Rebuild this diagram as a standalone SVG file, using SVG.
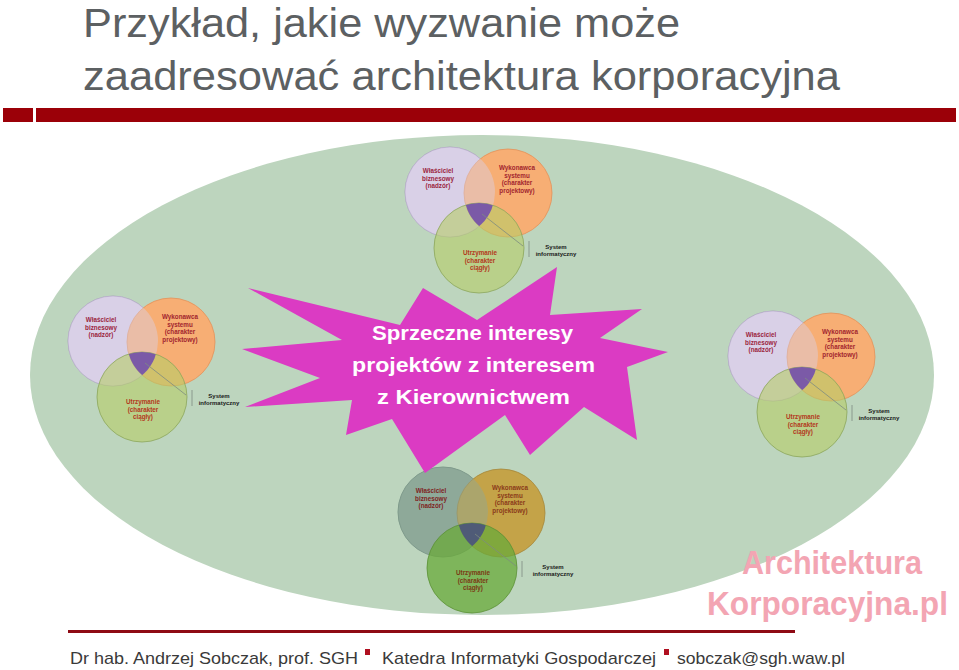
<svg xmlns="http://www.w3.org/2000/svg" width="959" height="670" viewBox="0 0 959 670">
<defs>
<style>
.title{font-family:"Liberation Sans",Arial,sans-serif;font-size:41px;fill:#5c6062}
.vt{font-family:"Liberation Sans",Arial,sans-serif;font-weight:bold;font-size:6.3px;text-anchor:middle}
.sys{font-family:"Liberation Sans",Arial,sans-serif;font-weight:bold;font-size:6px;text-anchor:middle;fill:#1a1a1a}
.a1{fill:#d9d0e7;stroke:#a69bbd;stroke-width:0.8}
.a2{fill:#f7ae74;stroke:#e39158;stroke-width:0.8}
.a1o{fill:#d9d0e7;fill-opacity:0.45}
.a3{fill:#b5cd67;fill-opacity:0.6;stroke:#8ba65a;stroke-width:0.8}
.ac{fill:#7b5aa7}
.ta{fill:#9b1f3e}.tb{fill:#a2242e}.tc{fill:#b3381c}
.b1{fill:#8fa99a;stroke:#6f8b7d;stroke-width:0.8}
.b2{fill:#c4a348;stroke:#a5863a;stroke-width:0.8}
.b1o{fill:#8fa99a;fill-opacity:0.45}
.b3{fill:#6aaa3a;fill-opacity:0.75;stroke:#5a9035;stroke-width:0.8}
.bc{fill:#4f5b77}
.ua{fill:#7e2323}.ub{fill:#8a3a1a}.uc{fill:#7a3a14}
.lead{fill:none;stroke:#7d8c80;stroke-width:0.8}
.star{font-family:"Liberation Sans",Arial,sans-serif;font-weight:bold;font-size:21px;fill:#ffffff;text-anchor:middle}
.logo{font-family:"Liberation Sans",Arial,sans-serif;font-weight:bold;font-size:33px;fill:#f3a5b3}
.foot{font-family:"Liberation Sans",Arial,sans-serif;font-size:17px;fill:#3a3a3a}
</style>
<clipPath id="k1"><circle cx="0" cy="0" r="45"/></clipPath>
<clipPath id="k2"><circle cx="58" cy="1" r="44"/></clipPath>
</defs>

<rect x="0" y="0" width="959" height="670" fill="#ffffff"/>

<g id="title">
<text class="title" x="83" y="37" textLength="597" lengthAdjust="spacingAndGlyphs">Przykład, jakie wyzwanie może</text>
<text class="title" x="83" y="90" textLength="757" lengthAdjust="spacingAndGlyphs">zaadresować architektura korporacyjna</text>
</g>

<g id="header-bar" fill="#9b0008">
<rect x="3" y="108" width="30" height="14"/>
<rect x="36" y="108" width="920" height="14"/>
</g>

<ellipse id="field" cx="482" cy="375" rx="452" ry="240" fill="#bdd5be"/>

<g id="venn-top" transform="translate(450,192)">
<circle class="a1" cx="0" cy="0" r="45"/>
<circle class="a2" cx="58" cy="1" r="44"/>
<circle class="a1o" cx="0" cy="0" r="45"/>
<circle class="a3" cx="29" cy="56" r="45"/>
<g clip-path="url(#k1)"><g clip-path="url(#k2)"><circle class="ac" cx="29" cy="56" r="45"/></g></g>
<text class="vt ta" x="-12" y="-19">Właściciel</text>
<text class="vt ta" x="-12" y="-11.3">biznesowy</text>
<text class="vt ta" x="-12" y="-3.6">(nadzór)</text>
<text class="vt tb" x="67" y="-22">Wykonawca</text>
<text class="vt tb" x="67" y="-14.5">systemu</text>
<text class="vt tb" x="67" y="-7">(charakter</text>
<text class="vt tb" x="67" y="0.5">projektowy)</text>
<text class="vt tc" x="30" y="63">Utrzymanie</text>
<text class="vt tc" x="30" y="70.5">(charakter</text>
<text class="vt tc" x="30" y="78">ciągły)</text>
<text class="sys" x="106" y="56.5">System</text>
<text class="sys" x="106" y="64">informatyczny</text>
</g>

<g id="venn-left" transform="translate(113,341)">
<circle class="a1" cx="0" cy="0" r="45"/>
<circle class="a2" cx="58" cy="1" r="44"/>
<circle class="a1o" cx="0" cy="0" r="45"/>
<circle class="a3" cx="29" cy="56" r="45"/>
<g clip-path="url(#k1)"><g clip-path="url(#k2)"><circle class="ac" cx="29" cy="56" r="45"/></g></g>
<text class="vt ta" x="-12" y="-19">Właściciel</text>
<text class="vt ta" x="-12" y="-11.3">biznesowy</text>
<text class="vt ta" x="-12" y="-3.6">(nadzór)</text>
<text class="vt tb" x="67" y="-22">Wykonawca</text>
<text class="vt tb" x="67" y="-14.5">systemu</text>
<text class="vt tb" x="67" y="-7">(charakter</text>
<text class="vt tb" x="67" y="0.5">projektowy)</text>
<text class="vt tc" x="30" y="63">Utrzymanie</text>
<text class="vt tc" x="30" y="70.5">(charakter</text>
<text class="vt tc" x="30" y="78">ciągły)</text>
<text class="sys" x="106" y="56.5">System</text>
<text class="sys" x="106" y="64">informatyczny</text>
</g>

<g id="venn-right" transform="translate(773,356)">
<circle class="a1" cx="0" cy="0" r="45"/>
<circle class="a2" cx="58" cy="1" r="44"/>
<circle class="a1o" cx="0" cy="0" r="45"/>
<circle class="a3" cx="29" cy="56" r="45"/>
<g clip-path="url(#k1)"><g clip-path="url(#k2)"><circle class="ac" cx="29" cy="56" r="45"/></g></g>
<text class="vt ta" x="-12" y="-19">Właściciel</text>
<text class="vt ta" x="-12" y="-11.3">biznesowy</text>
<text class="vt ta" x="-12" y="-3.6">(nadzór)</text>
<text class="vt tb" x="67" y="-22">Wykonawca</text>
<text class="vt tb" x="67" y="-14.5">systemu</text>
<text class="vt tb" x="67" y="-7">(charakter</text>
<text class="vt tb" x="67" y="0.5">projektowy)</text>
<text class="vt tc" x="30" y="63">Utrzymanie</text>
<text class="vt tc" x="30" y="70.5">(charakter</text>
<text class="vt tc" x="30" y="78">ciągły)</text>
<text class="sys" x="106" y="56.5">System</text>
<text class="sys" x="106" y="64">informatyczny</text>
</g>

<g id="venn-bottom" transform="translate(443,512)">
<circle class="b1" cx="0" cy="0" r="45"/>
<circle class="b2" cx="58" cy="1" r="44"/>
<circle class="b1o" cx="0" cy="0" r="45"/>
<circle class="b3" cx="29" cy="56" r="45"/>
<g clip-path="url(#k1)"><g clip-path="url(#k2)"><circle class="bc" cx="29" cy="56" r="45"/></g></g>
<text class="vt ua" x="-12" y="-19">Właściciel</text>
<text class="vt ua" x="-12" y="-11.3">biznesowy</text>
<text class="vt ua" x="-12" y="-3.6">(nadzór)</text>
<text class="vt ub" x="67" y="-22">Wykonawca</text>
<text class="vt ub" x="67" y="-14.5">systemu</text>
<text class="vt ub" x="67" y="-7">(charakter</text>
<text class="vt ub" x="67" y="0.5">projektowy)</text>
<text class="vt uc" x="30" y="63">Utrzymanie</text>
<text class="vt uc" x="30" y="70.5">(charakter</text>
<text class="vt uc" x="30" y="78">ciągły)</text>
<text class="sys" x="110" y="56.5">System</text>
<text class="sys" x="110" y="64">informatyczny</text>
</g>

<g id="connectors" class="lead">
<path d="M482,214 L523,246 M529,241 V257"/>
<path d="M145,363 L186,395 M192,390 V406"/>
<path d="M805,378 L846,410 M852,405 V421"/>
<path d="M475,534 L516,566 M522,561 V577"/>
</g>

<g id="star">
<polygon fill="#db3bc3" points="248,288 400,325 423,288 477,320 557,267 550,315 642,309 600,338 668,352 627,367 637,440 584,407 530,455 505,415 425,473 392,419 346,435 352,400 245,407 320,378 242,349 342,340"/>
<text class="star" x="472.5" y="340" textLength="201" lengthAdjust="spacingAndGlyphs">Sprzeczne interesy</text>
<text class="star" x="473.5" y="372" textLength="243" lengthAdjust="spacingAndGlyphs">projektów z interesem</text>
<text class="star" x="473.5" y="404" textLength="193" lengthAdjust="spacingAndGlyphs">z Kierownictwem</text>
</g>

<g id="logo">
<text class="logo" x="742" y="574" textLength="180" lengthAdjust="spacingAndGlyphs">Architektura</text>
<text class="logo" x="707" y="615" textLength="241" lengthAdjust="spacingAndGlyphs">Korporacyjna.pl</text>
</g>

<g id="footer">
<rect x="68" y="630" width="727" height="3" fill="#8e0a14"/>
<text class="foot" x="70" y="664" textLength="288" lengthAdjust="spacingAndGlyphs">Dr hab. Andrzej Sobczak, prof. SGH</text>
<rect x="365" y="649" width="5" height="6" fill="#b01020"/>
<text class="foot" x="382" y="664" textLength="274" lengthAdjust="spacingAndGlyphs">Katedra Informatyki Gospodarczej</text>
<rect x="664" y="649" width="5" height="6" fill="#b01020"/>
<text class="foot" x="677" y="664" textLength="168" lengthAdjust="spacingAndGlyphs">sobczak@sgh.waw.pl</text>
</g>
</svg>
